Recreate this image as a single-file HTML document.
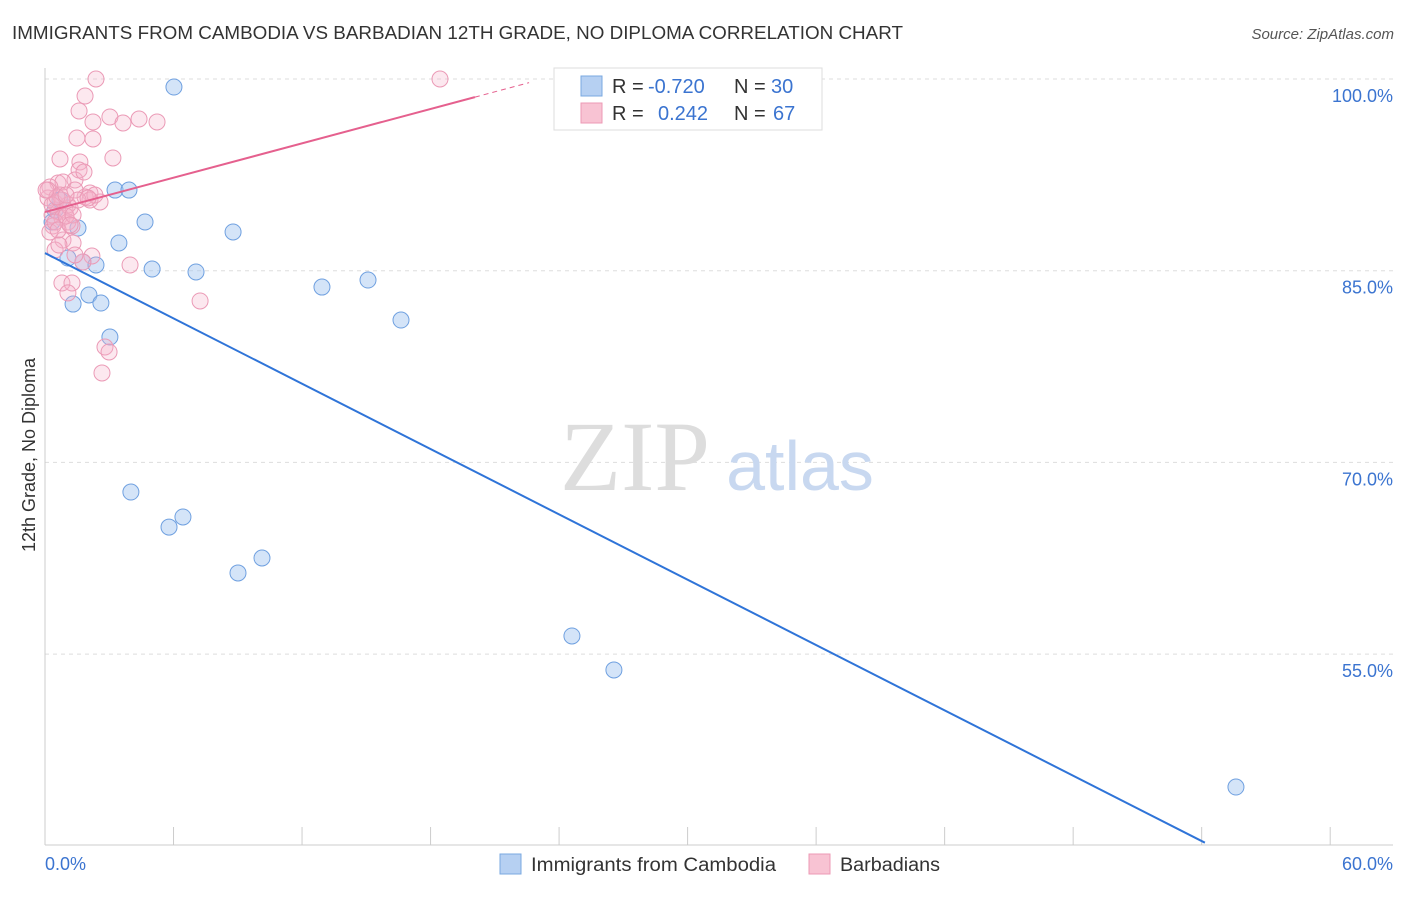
<!DOCTYPE html>
<html><head><meta charset="utf-8"><style>
body{margin:0;background:#fff;font-family:"Liberation Sans",sans-serif}
</style></head><body>
<svg id="chart" width="1406" height="892" xmlns="http://www.w3.org/2000/svg" style="font-family:'Liberation Sans',sans-serif">
<text x="12" y="39" font-size="18" fill="#333" textLength="891" lengthAdjust="spacingAndGlyphs">IMMIGRANTS FROM CAMBODIA VS BARBADIAN 12TH GRADE, NO DIPLOMA CORRELATION CHART</text>
<text x="1394" y="39" font-size="15" fill="#555" font-style="italic" text-anchor="end">Source: ZipAtlas.com</text>
<g id="grid"></g>
<text x="635" y="490" font-size="100" fill="#ddd" font-family="Liberation Serif" text-anchor="middle">ZIP</text>
<text x="800" y="490" font-size="70" fill="#c8d8f0" text-anchor="middle">atlas</text>
<g id="axes"></g>
<g id="marks"></g>
<text x="35" y="455" font-size="18" fill="#333" transform="rotate(-90 35 455)" text-anchor="middle">12th Grade, No Diploma</text>
<g>
<rect x="554" y="68" width="268" height="62" fill="#fff" stroke="#ddd"/>
<rect x="581" y="76" width="21" height="20" fill="#b6d0f2" stroke="#7aa8e0"/>
<rect x="581" y="103" width="21" height="20" fill="#f8c3d3" stroke="#ec9ab5"/>
<text x="612" y="93" font-size="20" fill="#333">R = <tspan x="648" fill="#3b74d0">-0.720</tspan><tspan x="734">N = </tspan><tspan x="771" fill="#3b74d0">30</tspan></text>
<text x="612" y="120" font-size="20" fill="#333">R = <tspan x="658" fill="#3b74d0">0.242</tspan><tspan x="734">N = </tspan><tspan x="773" fill="#3b74d0">67</tspan></text>
</g>
<g>
<rect x="500" y="854" width="21" height="20" fill="#b6d0f2" stroke="#7aa8e0"/>
<text x="531" y="871" font-size="19" fill="#333" textLength="245" lengthAdjust="spacingAndGlyphs">Immigrants from Cambodia</text>
<rect x="809" y="854" width="21" height="20" fill="#f8c3d3" stroke="#ec9ab5"/>
<text x="840" y="871" font-size="19" fill="#333" textLength="100" lengthAdjust="spacingAndGlyphs">Barbadians</text>
</g>
</svg>
<script>
const blueX=[6.02,3.27,3.92,4.67,8.78,3.45,1.54,1.07,1.77,2.38,5.00,7.05,12.93,15.08,2.05,1.31,2.61,16.62,3.03,4.01,5.79,6.44,9.01,10.13,24.60,26.56,55.60,0.33,0.47,0.70];
const blueY=[99.37,91.31,91.31,88.81,88.03,87.17,88.34,85.99,85.68,85.45,85.13,84.90,83.72,84.27,83.10,82.39,82.47,81.14,79.81,67.68,64.94,65.73,61.35,62.52,56.42,53.76,44.60,88.81,89.75,90.53];
const pinkX=[2.38,18.44,1.87,1.59,3.03,2.24,3.64,4.39,5.23,1.49,2.24,0.70,3.17,1.63,1.59,1.40,0.61,2.10,0.84,0.23,1.87,2.57,0.14,0.47,0.93,1.17,0.33,0.61,0.79,1.07,1.26,0.37,0.23,0.84,1.31,0.47,2.19,1.77,3.97,0.79,1.26,1.07,7.24,2.80,2.99,2.66,2.10,2.33,1.40,0.70,0.14,1.07,0.47,0.61,0.98,1.54,0.79,0.33,0.56,1.31,0.98,2.01,1.82,1.17,0.65,0.05,1.40];
const pinkY=[100.0,100.0,98.67,97.50,97.03,96.64,96.56,96.87,96.64,95.38,95.31,93.74,93.82,93.51,92.88,92.10,91.86,91.08,91.94,91.55,90.77,90.38,90.69,90.30,89.75,89.91,89.36,89.59,89.12,88.81,88.50,88.50,88.03,87.40,87.17,86.62,86.15,85.68,85.45,84.04,84.04,83.26,82.63,79.03,78.64,77.00,90.53,90.92,91.31,90.92,91.31,90.14,88.81,88.18,89.28,90.53,90.53,90.14,90.77,89.36,90.92,90.69,92.72,88.58,87.01,91.31,86.23];
const blueLine=[86.38,-0.852];
const pinkLine=[89.59,0.448];
const yTicks=[100,85,70,55];
const xTickLabels=["0.0%","60.0%"];
const NS="http://www.w3.org/2000/svg";
const X=v=>45+v*21.42, Y=v=>79+(100-v)*12.78;
function mk(p,t,a){const e=document.createElementNS(NS,t);for(const k in a)e.setAttribute(k,a[k]);p.appendChild(e);return e;}
const grid=document.getElementById('grid'),axes=document.getElementById('axes'),marks=document.getElementById('marks');
yTicks.forEach(v=>{
 const l=mk(grid,'line',{x1:45,x2:1393,y1:Y(v),y2:Y(v),stroke:'#ddd','stroke-dasharray':'4,4'});
 
 
 const t=mk(axes,'text',{x:1393,y:Y(v)+23,'font-size':18,fill:'#3b74d0','text-anchor':'end'});
 t.textContent=v.toFixed(1)+'%';
 
 
});
let al=mk(axes,'line',{x1:45,x2:45,y1:68,y2:845,stroke:'#ccc'});


let bl=mk(axes,'line',{x1:45,x2:1393,y1:845,y2:845,stroke:'#ccc'});


for(let i=0;i<=10;i++){
 const tk=mk(axes,'line',{x1:X(i*6),x2:X(i*6),y1:827,y2:845,stroke:'#ccc'});
 
 
}
[[0,'start'],[60,'end']].forEach((p,i)=>{
 const t=mk(axes,'text',{x:i?1393:45,y:870,'font-size':18,fill:'#3b74d0','text-anchor':p[1]});
 t.textContent=xTickLabels[i];
 
 
});
blueX.forEach((x,i)=>{
 const c=mk(marks,'circle',{cx:X(x),cy:Y(blueY[i]),r:8,fill:'rgba(160,196,240,0.45)',stroke:'#6fa0e0','stroke-width':1});
 
 
});
pinkX.forEach((x,i)=>{
 const c=mk(marks,'circle',{cx:X(x),cy:Y(pinkY[i]),r:8,fill:'rgba(246,180,202,0.3)',stroke:'#eb9ab6','stroke-width':1});
 
 
});
const bx2=54.15;
const b=mk(marks,'line',{x1:X(0),y1:Y(blueLine[0]),x2:X(bx2),y2:Y(blueLine[0]+blueLine[1]*bx2),stroke:'#2f74d8','stroke-width':2});


const px2=20.07,px3=22.6;
const p=mk(marks,'line',{x1:X(0),y1:Y(pinkLine[0]),x2:X(px2),y2:Y(pinkLine[0]+pinkLine[1]*px2),stroke:'#e5608e','stroke-width':2});


const pd=mk(marks,'line',{x1:X(px2),y1:Y(pinkLine[0]+pinkLine[1]*px2),x2:X(px3),y2:Y(pinkLine[0]+pinkLine[1]*px3),stroke:'#e5608e','stroke-width':1,'stroke-dasharray':'5,4'});


</script>
</body></html>
